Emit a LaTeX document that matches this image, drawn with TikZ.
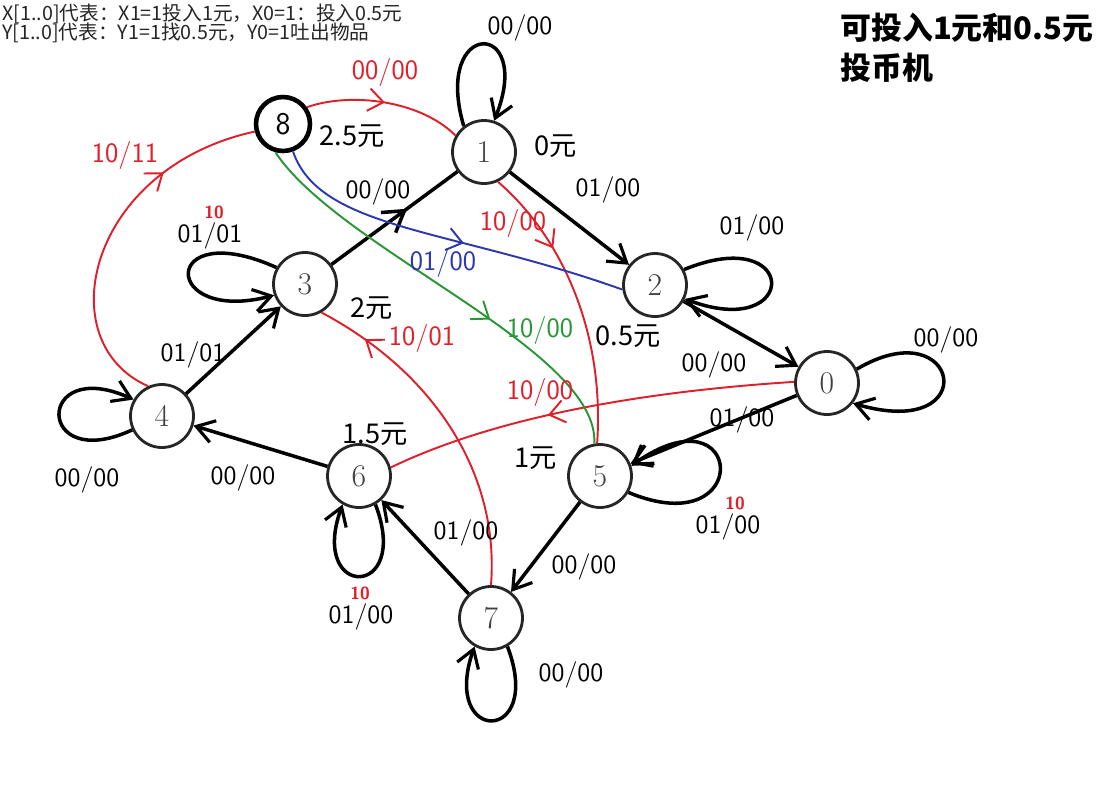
\documentclass[tikz,border=0pt]{standalone}
\usepackage{fontspec}
\newfontfamily\cjk{Noto Sans CJK SC}
\usetikzlibrary{arrows.meta,decorations.markings}
\definecolor{penred}{RGB}{222,32,42}
\definecolor{pengreen}{RGB}{40,150,55}
\definecolor{penblue}{RGB}{45,55,175}
\tikzset{
  state/.style={circle,draw=black!85,line width=1.6pt,minimum size=1.26cm,inner sep=0pt,text=black!75,font=\fontsize{18}{18}\selectfont},
  trans/.style={line width=2pt,-{Straight Barb[length=3.5mm,width=4.5mm,line width=1.8pt]}},
  pen/.style={line width=1.1pt,postaction={decorate},decoration={markings,mark=at position #1 with {\arrow{Straight Barb[length=3mm,width=4.5mm,line width=1.1pt]}}}},
  midarr/.style={postaction={decorate},decoration={markings,mark=at position #1 with {\arrow{Straight Barb[length=4mm,width=5mm,line width=2pt]}}}},
  hand/.style={inner sep=1pt,font=\sffamily\fontsize{15}{15}\selectfont},
  redhand/.style={text=penred,font=\sffamily\fontsize{16}{16}\selectfont},
  fix/.style={text=penred,font=\sffamily\bfseries\fontsize{10}{10}\selectfont,inner sep=0pt},
  money/.style={font=\cjk\fontsize{15.5}{15.5}\selectfont}
}
\begin{document}
\begin{tikzpicture}[x=0.02cm,y=-0.02cm]
  \useasboundingbox[fill=white] (0,0) rectangle (1100,805);

  % notes and title
  \node[anchor=west,inner sep=0pt,font=\cjk\fontsize{11.2}{11.2}\selectfont,text=black!85] (notex) at (2,14) {X[1..0]代表：X1=1投入1元，X0=1：投入0.5元};
  \node[anchor=west,inner sep=0pt,font=\cjk\fontsize{11.2}{11.2}\selectfont,text=black!85] (notey) at (2,33) {Y[1..0]代表：Y1=1找0.5元，Y0=1吐出物品};
  \node[anchor=west,inner sep=0pt,font=\cjk\bfseries\fontsize{17.6}{17.6}\selectfont] (title1) at (840,28) {可投入1元和0.5元};
  \node[anchor=west,inner sep=0pt,font=\cjk\bfseries\fontsize{17.6}{17.6}\selectfont] (title2) at (840,68) {投币机};

  % states
  \node[state,draw=black,line width=2.6pt,minimum size=1.08cm,text=black,font=\sffamily\fontsize{18}{18}\selectfont] (n8) at (283,124) {8};
  \foreach \n/\x/\y in {1/484/152,2/655/285,0/827/383,3/305/284,4/162/416,6/359/476,5/600/476,7/491/618}
    \node[state] (n\n) at (\x,\y) {\n};

  % amounts
  \node[money] (m8) at (352,136) {2.5元};
  \node[money] (m1) at (556,146) {0元};
  \node[money] (m2) at (628,336) {0.5元};
  \node[money] (m3) at (372,308) {2元};
  \node[money] (m6) at (375,434) {1.5元};
  \node[money] (m5) at (536,458) {1元};

  % black transitions
  \draw[trans] (n1.128) .. controls (432,18) and (535,18) .. (n1.72);
  \draw[trans] (n1) -- (n2);
  \draw[trans] (n2.28) .. controls (800,222) and (800,342) .. (n2.335);
  \draw[trans] (n2) -- (n0);
  \draw[trans] (n0.25) .. controls (960,308) and (985,442) .. (n0.322);
  \draw[trans] (n0) -- (n5);
  \draw[trans] (n5.330) .. controls (755,545) and (745,385) .. (n5.18);
  \draw[trans] (n5) -- (n7);
  \draw[trans] (n7.300) .. controls (545,745) and (440,745) .. (n7.240);
  \draw[trans] (n7) -- (n6);
  \draw[trans] (n6.300) .. controls (412,600) and (308,600) .. (n6.240);
  \draw[trans] (n6) -- (n4);
  \draw[trans] (n4.205) .. controls (35,475) and (35,355) .. (n4.150);
  \draw[trans] (n4) -- (n3);
  \draw[trans] (n3.150) .. controls (160,215) and (160,325) .. (n3.200);
  \draw[line width=2pt,midarr=0.6] (n3) -- (n1);

  % pen transitions
  \draw[penred,pen=0.5] (n8.35) .. controls (350,92) and (420,100) .. (n1.150);
  \draw[penred,pen=0.72] (n4.115) .. controls (48,342) and (88,168) .. (n8.195);
  \draw[penred,pen=0.3] (n1.295) .. controls (560,235) and (605,330) .. (n5.95);
  \draw[penred,pen=0.6] (n0.178) .. controls (700,388) and (520,405) .. (n6.15);
  \draw[penred,pen=0.85] (n7.90) .. controls (500,470) and (430,370) .. (n3.300);
  \draw[pengreen,pen=0.62] (n8.255) .. controls (340,250) and (600,350) .. (n5.100);
  \draw[penblue,pen=0.55] (n8.290) .. controls (320,230) and (450,228) .. (n2.188);

  % black labels
  \node[hand] (l11) at (520,28) {00/00};
  \node[hand] (l31) at (378,192) {00/00};
  \node[hand] (l12) at (608,190) {01/00};
  \node[hand] (l22) at (752,228) {01/00};
  \node[hand] (l00) at (946,340) {00/00};
  \node[hand] (l06) at (714,365) {00/00};
  \node[hand] (l05) at (742,420) {01/00};
  \node[hand] (l55) at (728,527) {01/00};
  \node[fix] (f55) at (735,503) {10};
  \node[hand] (l57) at (584,567) {00/00};
  \node[hand] (l77) at (571,675) {00/00};
  \node[hand] (l76) at (466,533) {01/00};
  \node[hand] (l66) at (361,617) {01/00};
  \node[fix] (f66) at (360,593) {10};
  \node[hand] (l64) at (243,478) {00/00};
  \node[hand] (l44) at (87,480) {00/00};
  \node[hand] (l43) at (193,355) {01/01};
  \node[hand] (l33) at (210,236) {01/01};
  \node[fix] (f33) at (214,212) {10};

  % pen labels
  \node[redhand] (r81) at (385,72) {00/00};
  \node[redhand] (r84) at (125,155) {10/11};
  \node[redhand] (r15) at (513,223) {10/00};
  \node[redhand] (r73) at (422,338) {10/01};
  \node[redhand] (r06) at (540,392) {10/00};
  \node[redhand,text=pengreen] (g85) at (540,330) {10/00};
  \node[redhand,text=penblue] (b82) at (443,263) {01/00};
\end{tikzpicture}
\end{document}
